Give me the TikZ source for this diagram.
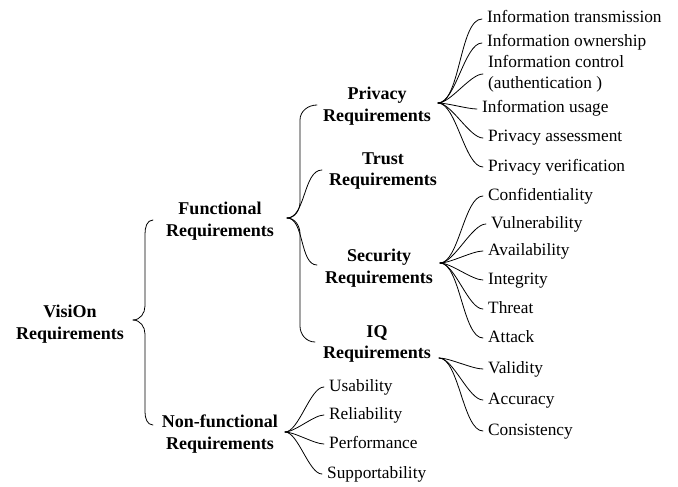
\documentclass[tikz,border=0pt]{standalone}
\usepackage{fontspec}
\setmainfont{Liberation Serif}
\begin{document}
\begin{tikzpicture}[x=1pt,y=-1pt,
  cat/.style={font=\fontsize{18}{21.5}\selectfont\bfseries, align=center, inner sep=0pt},
  leaf/.style={font=\fontsize{17.3}{21}\selectfont, anchor=west, inner xsep=5pt, inner ysep=0pt, text height=12pt, text depth=4pt},
  leaftwo/.style={font=\fontsize{17.3}{21}\selectfont, anchor=west, align=left, inner xsep=5pt, inner ysep=0pt},
  conn/.style={line width=0.8pt, line cap=round},
  lk/.style={out=0, in=180, looseness=0.6}]
\useasboundingbox (0,0) rectangle (678,487);

% category nodes
\node[cat] (root)     at (70,324)  {VisiOn\\Requirements};
\node[cat] (func)     at (220,221) {Functional\\Requirements};
\node[cat] (nonfunc)  at (220,434) {Non-functional\\Requirements};
\node[cat] (privacy)  at (377,106) {Privacy\\Requirements};
\node[cat] (trust)    at (383,171) {Trust\\Requirements};
\node[cat] (security) at (379,268) {Security\\Requirements};
\node[cat] (iq)       at (377,344) {IQ\\Requirements};

% junction points
\coordinate (rootT) at (133,320);
\coordinate (funcT) at (287,218);
\coordinate (nonT)  at (285,432);
\coordinate (privT) at (438,103);
\coordinate (secT)  at (440,263);
\coordinate (iqT)   at (439,358);
\coordinate (funcL) at (153,220);
\coordinate (nonL)  at (153,425);
\coordinate (privL) at (317,105);
\coordinate (trustL) at (322,170);
\coordinate (secL)  at (317,265);
\coordinate (iqL)   at (315,342);

% leaves
\node[leaf] (p1) at (482,19)  {Information transmission};
\node[leaf] (p2) at (482,43)  {Information ownership};
\node[leaftwo] (p3) at (483,74) {Information control\\(authentication )};
\node[leaf] (p4) at (477,109) {Information usage};
\node[leaf] (p5) at (483,138) {Privacy assessment};
\node[leaf] (p6) at (483,167) {Privacy verification};

\node[leaf] (s1) at (483,196) {Confidentiality};
\node[leaf] (s2) at (486,224) {Vulnerability};
\node[leaf] (s3) at (483,251) {Availability};
\node[leaf] (s4) at (483,280) {Integrity};
\node[leaf] (s5) at (483,309) {Threat};
\node[leaf] (s6) at (483,338) {Attack};

\node[leaf] (q1) at (483,369) {Validity};
\node[leaf] (q2) at (483,400) {Accuracy};
\node[leaf] (q3) at (483,431) {Consistency};

\node[leaf] (n1) at (324,387) {Usability};
\node[leaf] (n2) at (324,415) {Reliability};
\node[leaf] (n3) at (324,444) {Performance};
\node[leaf] (n4) at (322,474) {Supportability};

% root brace
\draw[conn] (rootT) to[out=0,in=270] (145,306) -- (145,234) to[out=90,in=180] (funcL);
\draw[conn] (rootT) to[out=0,in=90] (145,334) -- (145,412) to[out=270,in=180] (nonL);

% functional brace
\draw[conn] (funcT) to[out=0,in=270] (300,202) -- (300,120) to[out=90,in=180] (privL);
\draw[conn] (funcT) to[out=0,in=180,looseness=0.8] (trustL);
\draw[conn] (funcT) to[out=0,in=180,looseness=0.8] (secL);
\draw[conn] (funcT) to[out=0,in=90] (300,234) -- (300,326) to[out=270,in=180] (iqL);

% leaf connectors
\foreach \t in {p1,p2,p3,p4,p5,p6} \draw[conn] (privT) to[lk] (\t.west);
\foreach \t in {s1,s2,s3,s4,s5,s6} \draw[conn] (secT) to[lk] (\t.west);
\foreach \t in {q1,q2,q3} \draw[conn] (iqT) to[lk] (\t.west);
\foreach \t in {n1,n2,n3,n4} \draw[conn] (nonT) to[lk] (\t.west);
\end{tikzpicture}
\end{document}
